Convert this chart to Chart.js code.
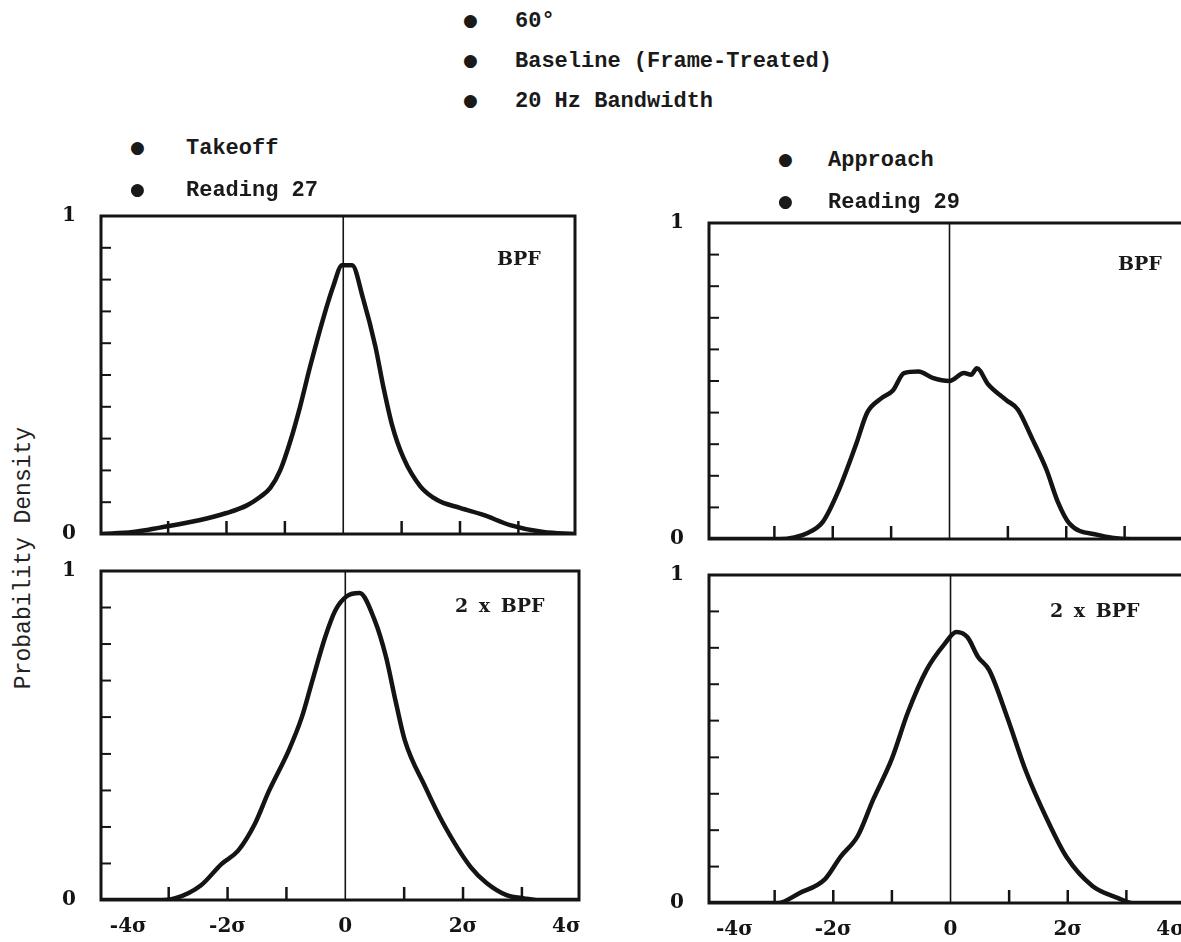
<!DOCTYPE html>
<html>
<head>
<meta charset="utf-8">
<script src="https://cdn.jsdelivr.net/npm/chart.js@4.4.1/dist/chart.umd.min.js"></script>
<style>
  html, body { margin: 0; padding: 0; background: #fff; overflow: hidden; }
  body { width: 1181px; height: 942px; position: relative; }
  canvas { position: absolute; }
  .note {
    position: absolute;
    font-family: "Liberation Mono", monospace;
    font-weight: bold;
    font-size: 22px;
    line-height: 26px;
    color: #1a1a1a;
    white-space: pre;
  }
  .dot { display: inline-block; font-family: "DejaVu Sans", sans-serif; font-size: 17px; vertical-align: 1px; }
  .panel-label {
    position: absolute;
    font-family: "DejaVu Serif", serif;
    font-weight: bold;
    font-size: 19px;
    line-height: 24px;
    color: #1a1a1a;
    white-space: pre;
    word-spacing: 4px;
  }
  .ytitle {
    position: absolute;
    left: -116px;
    top: 545px;
    width: 280px;
    text-align: center;
    font-family: "Liberation Mono", monospace;
    font-size: 23px;
    line-height: 26px;
    color: #222;
    transform: rotate(-90deg);
  }
</style>
</head>
<body>
<canvas id="takeoffBpf" width="544" height="376" style="left:41px; top:187px"></canvas>
<canvas id="takeoff2Bpf" width="548" height="402" style="left:41px; top:542px"></canvas>
<canvas id="approachBpf" width="544" height="374" style="left:649px; top:194px"></canvas>
<canvas id="approach2Bpf" width="546" height="401" style="left:649px; top:546px"></canvas>

<div class="note" style="left:463px; top:7px"><span class="dot" style="width:52px">●</span>60°</div>
<div class="note" style="left:463px; top:47px"><span class="dot" style="width:52px">●</span>Baseline (Frame-Treated)</div>
<div class="note" style="left:463px; top:87px"><span class="dot" style="width:52px">●</span>20 Hz Bandwidth</div>
<div class="note" style="left:130px; top:134px"><span class="dot" style="width:56px">●</span>Takeoff</div>
<div class="note" style="left:130px; top:176px"><span class="dot" style="width:56px">●</span>Reading 27</div>
<div class="note" style="left:778px; top:146px"><span class="dot" style="width:50px">●</span>Approach</div>
<div class="note" style="left:778px; top:188px"><span class="dot" style="width:50px">●</span>Reading 29</div>

<div class="panel-label" style="left:497px; top:246px">BPF</div>
<div class="panel-label" style="left:455px; top:593px">2 x BPF</div>
<div class="panel-label" style="left:1118px; top:251px">BPF</div>
<div class="panel-label" style="left:1050px; top:598px">2 x BPF</div>

<div class="ytitle">Probability Density</div>

<script>
// x in units of sigma, y is probability density (0..1)
const takeoffBpfX = [-4.15, -3.6, -3.14, -2.45, -2.0, -1.65, -1.42, -1.25, -1.08, -0.91, -0.74, -0.57, -0.34, -0.17, -0.02, 0.15, 0.34, 0.55, 0.69, 0.84, 1.03, 1.32, 1.61, 2.0, 2.4, 2.86, 3.43, 3.97];
const takeoffBpfY = [0.0, 0.006, 0.02, 0.044, 0.066, 0.09, 0.117, 0.145, 0.2, 0.29, 0.4, 0.525, 0.68, 0.78, 0.845, 0.845, 0.74, 0.59, 0.46, 0.34, 0.24, 0.15, 0.107, 0.082, 0.06, 0.028, 0.006, 0.0];

const takeoff2BpfX = [-4.15, -3.2, -2.9, -2.45, -2.1, -1.82, -1.54, -1.3, -0.96, -0.74, -0.57, -0.34, -0.17, 0.03, 0.24, 0.5, 0.69, 0.86, 1.01, 1.36, 1.66, 2.13, 2.4, 2.74, 3.04, 3.3, 3.97];
const takeoff2BpfY = [0.0, 0.0, 0.005, 0.045, 0.11, 0.15, 0.23, 0.33, 0.455, 0.555, 0.66, 0.8, 0.88, 0.924, 0.933, 0.85, 0.74, 0.6, 0.486, 0.343, 0.234, 0.1, 0.052, 0.015, 0.005, 0.0, 0.0];

const approachBpfX = [-4.12, -2.92, -2.42, -2.17, -1.92, -1.6, -1.41, -1.17, -0.97, -0.78, -0.53, -0.29, 0.0, 0.25, 0.37, 0.47, 0.66, 0.97, 1.17, 1.41, 1.66, 1.85, 2.05, 2.54, 3.1, 4.0];
const approachBpfY = [0.0, 0.0, 0.02, 0.054, 0.145, 0.3, 0.4, 0.445, 0.47, 0.525, 0.53, 0.51, 0.5, 0.525, 0.52, 0.54, 0.49, 0.44, 0.41, 0.32, 0.22, 0.12, 0.05, 0.013, 0.0, 0.0];

const approach2BpfX = [-4.12, -2.95, -2.58, -2.14, -1.88, -1.58, -1.32, -1.0, -0.73, -0.41, -0.1, 0.1, 0.29, 0.47, 0.66, 0.97, 1.29, 1.66, 1.98, 2.42, 2.86, 3.1, 4.0];
const approach2BpfY = [0.0, 0.0, 0.03, 0.073, 0.14, 0.205, 0.315, 0.44, 0.58, 0.71, 0.79, 0.826, 0.81, 0.75, 0.71, 0.565, 0.4, 0.25, 0.14, 0.052, 0.015, 0.0, 0.0];

const xTickValues = [-4, -2, 0, 2, 4];
const xTickLabels = ["-4\u03c3", "-2\u03c3", "0", "2\u03c3", "4\u03c3"];
const xMinorTicks = [-3, -2, -1, 1, 2, 3];
// the upper panels carry nine small ticks up the side, the lower ones eight
const yMinorTicksBpf = [0.1, 0.2, 0.3, 0.4, 0.5, 0.6, 0.7, 0.8, 0.9];
const yMinorTicks2Bpf = [0.111, 0.222, 0.333, 0.444, 0.556, 0.667, 0.778, 0.889];

const ink = "#141414";

// box, centre line and the short inward tick marks
const panelFrame = {
  id: "panelFrame",
  afterDatasetsDraw(chart, args, opts) {
    const ctx = chart.ctx;
    const area = chart.chartArea;
    const xs = chart.scales.x;
    const ys = chart.scales.y;
    ctx.save();
    ctx.strokeStyle = ink;
    ctx.lineCap = "butt";

    ctx.lineWidth = 3;
    ctx.strokeRect(area.left, area.top, area.right - area.left, area.bottom - area.top);

    const x0 = xs.getPixelForValue(0);
    ctx.lineWidth = 1.6;
    ctx.beginPath();
    ctx.moveTo(x0, area.top);
    ctx.lineTo(x0, area.bottom);
    ctx.stroke();

    ctx.lineWidth = 2.5;
    xMinorTicks.forEach((v) => {
      const px = xs.getPixelForValue(v);
      ctx.beginPath();
      ctx.moveTo(px, area.bottom);
      ctx.lineTo(px, area.bottom - 13);
      ctx.stroke();
    });

    ctx.lineWidth = 2;
    opts.yTicks.forEach((v) => {
      const py = ys.getPixelForValue(v);
      ctx.beginPath();
      ctx.moveTo(area.left, py);
      ctx.lineTo(area.left + 10, py);
      ctx.stroke();
    });
    ctx.restore();
  },
};

function toPoints(xs, ys) {
  return xs.map((x, i) => ({ x: x, y: ys[i] }));
}

function drawPanel(id, xs, ys, xMin, xMax, yTicks, showLabels) {
  const ctx = document.getElementById(id).getContext("2d");
  const tickFont = { family: "'DejaVu Serif', serif", weight: "bold", size: 20 };

  return new Chart(ctx, {
    type: "line",
    data: {
      datasets: [
        {
          data: toPoints(xs, ys),
          borderColor: ink,
          borderWidth: 4.5,
          pointRadius: 0,
          cubicInterpolationMode: "monotone",
          fill: false,
        },
      ],
    },
    options: {
      responsive: false,
      animation: false,
      devicePixelRatio: 1,
      layout: { padding: { top: 10, right: 10, left: 0, bottom: 0 } },
      plugins: {
        legend: { display: false },
        tooltip: { enabled: false },
        panelFrame: { yTicks: yTicks },
      },
      scales: {
        x: {
          type: "linear",
          min: xMin,
          max: xMax,
          grid: { display: false },
          border: { display: false },
          afterBuildTicks: (scale) => {
            scale.ticks = xTickValues.map((v) => ({ value: v }));
          },
          afterFit: (scale) => {
            scale.height = showLabels ? 44 : 6;
          },
          ticks: {
            display: showLabels,
            autoSkip: false,
            maxRotation: 0,
            align: "inner",
            padding: 7,
            color: ink,
            font: tickFont,
            callback: (value) => xTickLabels[xTickValues.indexOf(value)],
          },
        },
        y: {
          min: 0,
          max: 1,
          grid: { display: false },
          border: { display: false },
          afterBuildTicks: (scale) => {
            scale.ticks = [{ value: 0 }, { value: 1 }];
          },
          afterFit: (scale) => {
            scale.width = 60;
          },
          ticks: {
            padding: 17,
            color: ink,
            font: tickFont,
            callback: (value) => String(value),
          },
        },
      },
    },
    plugins: [panelFrame],
  });
}

drawPanel("takeoffBpf", takeoffBpfX, takeoffBpfY, -4.15, 3.97, yMinorTicksBpf, false);
drawPanel("takeoff2Bpf", takeoff2BpfX, takeoff2BpfY, -4.15, 3.97, yMinorTicks2Bpf, true);
drawPanel("approachBpf", approachBpfX, approachBpfY, -4.12, 4.0, yMinorTicksBpf, false);
drawPanel("approach2Bpf", approach2BpfX, approach2BpfY, -4.12, 4.0, yMinorTicks2Bpf, true);
</script>
</body>
</html>
